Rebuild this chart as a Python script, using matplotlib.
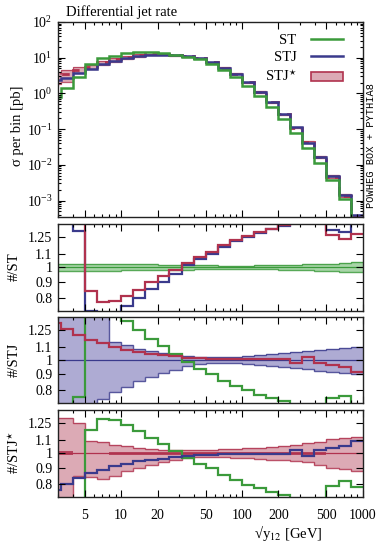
import numpy as np
import matplotlib
matplotlib.use("Agg")
import matplotlib.pyplot as plt
from matplotlib.lines import Line2D
from matplotlib.patches import Patch
from matplotlib.ticker import FixedLocator, FixedFormatter, NullFormatter, NullLocator, LogLocator

# ---------------------------------------------------------------
# data
# ---------------------------------------------------------------
edges = [2.51, 3.16, 3.98, 5.01, 6.31, 7.94, 10.0, 12.6, 15.8, 20.0, 25.1, 31.6, 39.8,
         50.1, 63.1, 79.4, 100.0, 126.0, 158.0, 200.0, 251.0, 316.0, 398.0, 501.0,
         631.0, 794.0, 1000.0]

# ST cross section per bin [pb]
st = [0.81, 1.4, 2.8, 6.7, 9.6, 11.4, 13.2, 14.1, 14.1, 13.2, 12.1, 10.7, 9.1,
      6.7, 4.5, 2.94, 1.64, 0.85, 0.42, 0.19, 0.079, 0.030, 0.0115, 0.0037,
      0.00112, 0.00028]
# STJ / ST and STJ* / ST
stj_over_st = [2.9, 1.95, 1.31, 0.726, 0.686, 0.712, 0.75, 0.80, 0.855, 0.90, 0.955,
               1.014, 1.066, 1.106, 1.165, 1.21, 1.25, 1.29, 1.325, 1.35, 1.43, 1.40,
               1.46, 1.32, 1.30, 1.40]
stjs_over_st = [3.8, 2.45, 1.57, 0.842, 0.775, 0.783, 0.81, 0.848, 0.895, 0.935, 0.982,
                1.032, 1.079, 1.117, 1.175, 1.22, 1.26, 1.295, 1.33, 1.36, 1.40, 1.43,
                1.43, 1.27, 1.23, 1.28]

# relative uncertainties
st_err = [0.028, 0.028, 0.027, 0.026, 0.025, 0.024, 0.023, 0.022, 0.021, 0.02, 0.019,
          0.017, 0.015, 0.014, 0.013, 0.013, 0.013, 0.014, 0.015, 0.017, 0.019, 0.022,
          0.025, 0.028, 0.032, 0.037]
stj_err_hi = [0.5, 0.5, 0.5, 0.5, 0.5, 0.14, 0.12, 0.085, 0.065, 0.05, 0.04, 0.03,
              0.022, 0.02, 0.02, 0.025, 0.03, 0.035, 0.045, 0.05, 0.06, 0.065, 0.075,
              0.085, 0.09, 0.10]
stj_err_lo = [0.4, 0.4, 0.4, 0.4, 0.25, 0.21, 0.18, 0.145, 0.12, 0.092, 0.068, 0.045,
              0.03, 0.025, 0.022, 0.025, 0.03, 0.035, 0.045, 0.05, 0.06, 0.065, 0.075,
              0.085, 0.09, 0.10]
stjs_err_hi = [0.30, 0.30, 0.25, 0.095, 0.09, 0.065, 0.055, 0.04, 0.032, 0.026, 0.024,
               0.025, 0.025, 0.027, 0.03, 0.033, 0.037, 0.042, 0.048, 0.055, 0.065,
               0.075, 0.09, 0.11, 0.12, 0.13]
stjs_err_lo = [0.4, 0.4, 0.155, 0.16, 0.17, 0.155, 0.125, 0.104, 0.08, 0.06, 0.045,
               0.035, 0.03, 0.028, 0.03, 0.032, 0.035, 0.04, 0.045, 0.05, 0.055, 0.065,
               0.08, 0.10, 0.11, 0.12]
stjs_stat = [0.015, 0.015, 0.004, 0.004, 0.004, 0.012, 0.012, 0.012, 0.012, 0.012,
             0.012, 0.012, 0.012, 0.012, 0.012, 0.012, 0.012, 0.012, 0.012, 0.012,
             0.012, 0.012, 0.012, 0.004, 0.004, 0.004]

xticks = [5, 10, 20, 50, 100, 200, 500, 1000]
rticks = [0.8, 0.9, 1.0, 1.1, 1.25]
rticklabels = ["0.8", "0.9", "1", "1.1", "1.25"]

# ---------------------------------------------------------------
# style
# ---------------------------------------------------------------
plt.rcParams["font.family"] = "serif"
plt.rcParams["font.serif"] = ["Liberation Serif"]
plt.rcParams["mathtext.fontset"] = "stix"
plt.rcParams["font.size"] = 10

GREEN = "#3b9a3b"
BLUE = "#3a3a8c"
RED = "#b0324e"
GREEN_F = "#a8d5a8"
BLUE_F = "#aeabd3"
RED_F = "#dcaab5"

edges = np.array(edges)
st = np.array(st)
stj = st * np.array(stj_over_st)
stjs = st * np.array(stjs_over_st)
st_err = np.array(st_err)
stj_hi, stj_lo = np.array(stj_err_hi), np.array(stj_err_lo)
stjs_hi, stjs_lo = np.array(stjs_err_hi), np.array(stjs_err_lo)
stjs_stat = np.array(stjs_stat)
ones = np.ones(len(st))

W, H = 381.0, 545.0
def box(top, bottom):
    return [58 / W, 1 - bottom / H, (362.7 - 58) / W, (bottom - top) / H]

fig = plt.figure(figsize=(3.81, 5.45), dpi=100)
ax0 = fig.add_axes(box(22, 217))
ax1 = fig.add_axes(box(224, 310.7))
ax2 = fig.add_axes(box(316.7, 403.3))
ax3 = fig.add_axes(box(410, 496.7))

def style_x(ax, labels):
    ax.set_xscale("log")
    ax.set_xlim(3, 1000)
    ax.xaxis.set_major_locator(FixedLocator(xticks))
    ax.xaxis.set_minor_locator(LogLocator(base=10, subs=np.arange(2, 10), numticks=20))
    ax.xaxis.set_minor_formatter(NullFormatter())
    if labels:
        ax.xaxis.set_major_formatter(FixedFormatter([str(t) for t in xticks]))
    else:
        ax.xaxis.set_major_formatter(NullFormatter())
    ax.tick_params(which="both", direction="in", top=True, right=True, width=0.8)
    ax.tick_params(which="major", length=5)
    ax.tick_params(which="minor", length=2.5)
    ax.tick_params(axis="x", which="major", pad=9)
    for s in ax.spines.values():
        s.set_linewidth(1.0)
        s.set_color("#222222")

# ---------------------------------------------------------------
# main panel
# ---------------------------------------------------------------
ax0.stairs(stjs * (1 + stjs_hi), edges, baseline=stjs * (1 - stjs_lo), fill=True,
           color=RED_F, lw=0)
ax0.stairs(stjs * (1 + stjs_hi), edges, baseline=None, color=RED, lw=0.9, alpha=0.8)
ax0.stairs(stjs * (1 - stjs_lo), edges, baseline=None, color=RED, lw=0.9, alpha=0.8)
ax0.stairs(stjs, edges, baseline=None, color=RED, lw=2, ls=(0, (3, 2)))
ax0.stairs(stj, edges, baseline=None, color=BLUE, lw=1.8)
ax0.stairs(st, edges, baseline=None, color=GREEN, lw=1.8)

style_x(ax0, False)
ax0.set_yscale("log")
ax0.set_ylim(3.45e-4, 100)
ax0.yaxis.set_major_locator(LogLocator(base=10, numticks=10))
ax0.yaxis.set_minor_locator(LogLocator(base=10, subs=np.arange(2, 10), numticks=20))
ax0.yaxis.set_minor_formatter(NullFormatter())
ax0.tick_params(axis="y", which="major", pad=4)

handles = [Line2D([], [], color=GREEN, lw=1.8),
           Line2D([], [], color=BLUE, lw=1.8),
           Patch(facecolor=RED_F, edgecolor=RED, lw=1.2)]
ax0.legend(handles, ["ST", "STJ", r"STJ$^{\star}$"], loc="upper right",
           bbox_to_anchor=(0.955, 0.97), markerfirst=False, frameon=False,
           handlelength=2.2, handleheight=0.6, handletextpad=1.0, labelspacing=0.3,
           borderaxespad=0.0, fontsize=10.5)

# ---------------------------------------------------------------
# ratio panels
# ---------------------------------------------------------------
def ratio_panel(ax, ref, hi, lo, fillc, linec, others, stat=None):
    ax.stairs(1 + hi, edges, baseline=1 - lo, fill=True, color=fillc, lw=0)
    if stat is not None:
        ax.stairs(1 + stat, edges, baseline=1 - stat, fill=True, color=linec, lw=0,
                  alpha=0.85)
    ax.stairs(1 + hi, edges, baseline=None, color=linec, lw=1.0, alpha=0.85)
    ax.stairs(1 - lo, edges, baseline=None, color=linec, lw=1.0, alpha=0.85)
    ax.stairs(ones, edges, baseline=None, color=linec, lw=0.9)
    for vals, c in others:
        ax.stairs(vals / ref, edges, baseline=None, color=c, lw=1.6)
    ax.set_yscale("log")
    ax.set_ylim(0.727, 1.375)
    ax.yaxis.set_major_locator(FixedLocator(rticks))
    ax.yaxis.set_major_formatter(FixedFormatter(rticklabels))
    ax.yaxis.set_minor_locator(NullLocator())
    ax.yaxis.set_minor_formatter(NullFormatter())
    ax.tick_params(axis="y", which="major", pad=4)

ratio_panel(ax1, st, st_err, st_err, GREEN_F, GREEN, [(stj, BLUE), (stjs, RED)])
ratio_panel(ax2, stj, stj_hi, stj_lo, BLUE_F, BLUE, [(st, GREEN), (stjs, RED)])
ratio_panel(ax3, stjs, stjs_hi, stjs_lo, RED_F, RED, [(st, GREEN), (stj, BLUE)],
            stat=stjs_stat)
style_x(ax1, False)
style_x(ax2, False)
style_x(ax3, True)

# ---------------------------------------------------------------
# texts
# ---------------------------------------------------------------
fig.text(66 / W, 1 - 12.5 / H, "Differential jet rate", ha="left", va="center",
         fontsize=10.5)
fig.text(17.5 / W, 1 - 126 / H, "σ per bin [pb]", rotation=90, ha="center", va="center",
         fontsize=10.5)
fig.text(14 / W, 1 - 267 / H, "#/ST", rotation=90, ha="center", va="center", fontsize=10.5)
fig.text(14 / W, 1 - 360 / H, "#/STJ", rotation=90, ha="center", va="center",
         fontsize=10.5)
fig.text(14 / W, 1 - 452 / H, r"#/STJ$^{\star}$", rotation=90, ha="center", va="center",
         fontsize=10.5)
fig.text(288 / W, 1 - 533 / H, r"√y$_{12}$ [GeV]", ha="center", va="center",
         fontsize=10.5)
fig.text(371 / W, 1 - 145 / H, "POWHEG BOX + PYTHIA8", rotation=90, ha="center",
         va="center", family="Liberation Mono", fontsize=7.5)

fig.savefig("out.png", dpi=100)
